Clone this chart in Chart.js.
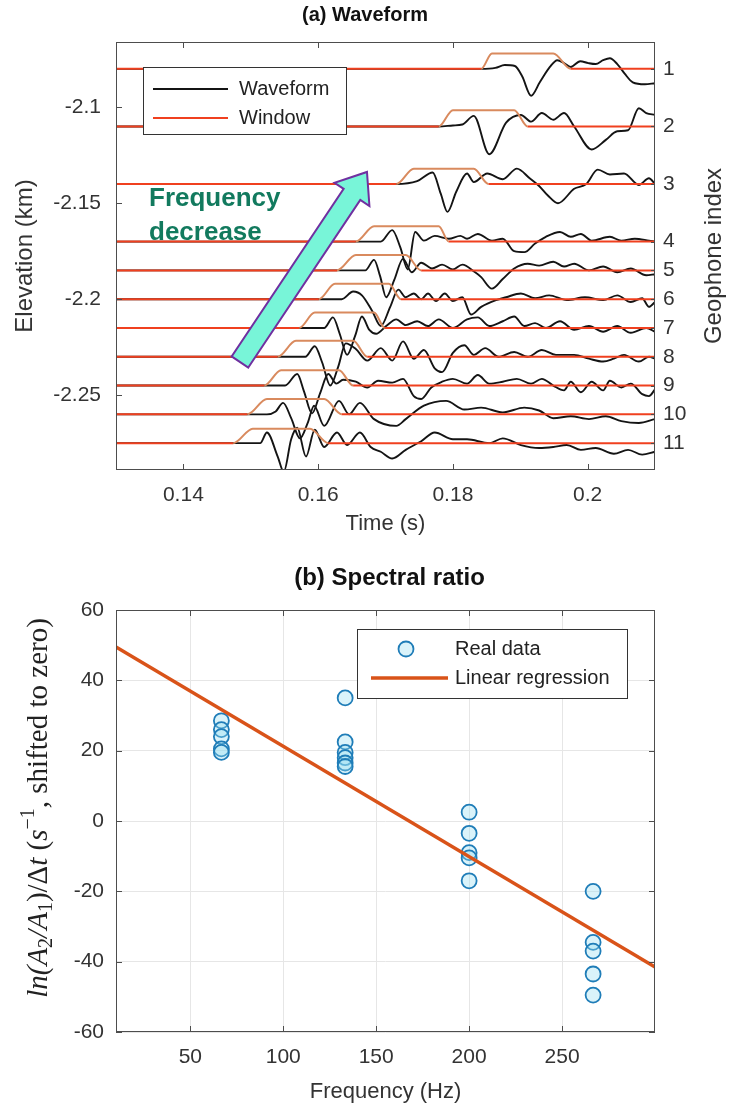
<!DOCTYPE html>
<html>
<head>
<meta charset="utf-8">
<script src="https://cdn.jsdelivr.net/npm/chart.js@4.4.1/dist/chart.umd.min.js"></script>
<style>
  html, body { margin: 0; padding: 0; background: #fff; }
  #wrap { position: relative; width: 730px; height: 1107px; }
  #wave { position: absolute; left: 0; top: 0; }
  #ratio { position: absolute; left: 0; top: 548px; }
</style>
</head>
<body>
<div id="wrap">
  <canvas id="wave" width="730" height="545"></canvas>
  <canvas id="ratio" width="730" height="559"></canvas>
</div>
<script>
// ---------- (a) Waveform : data ----------
const geophoneIndex = ['1', '2', '3', '4', '5', '6', '7', '8', '9', '10', '11'];
const geophoneElev = [-2.08, -2.11, -2.14, -2.17, -2.185, -2.2, -2.215, -2.23, -2.245, -2.26, -2.275]; // km
const timeTicks = [0.14, 0.16, 0.18, 0.2];
const elevTicks = [-2.25, -2.2, -2.15, -2.1];

// trace samples: time (s) and offset from the geophone elevation (m)
const t1 = [0.13, 0.1842, 0.1863, 0.1877, 0.1892, 0.1903, 0.1916, 0.1929, 0.1944, 0.1955, 0.1965, 0.1975, 0.1989, 0.2001, 0.2012, 0.2023, 0.2033, 0.2044, 0.2055, 0.2067, 0.2085, 0.21];
const a1 = [0, 0, 0.5, 2, 1.5, -4, -14, -7, 1, 4.5, 3, 1, 4, 3, 2.5, 4.5, 5.5, 2.5, -2.5, -7, -8, -7.5];
const t2 = [0.13, 0.1779, 0.18, 0.1814, 0.1831, 0.1854, 0.1879, 0.1901, 0.1916, 0.1932, 0.1949, 0.1965, 0.198, 0.2006, 0.2027, 0.2044, 0.206, 0.2076, 0.2087, 0.21];
const a2 = [0, 0, 0.5, 1, 5.5, -14.5, 2, 6, 2.5, 7, 3.5, 7, 0, -12, -7, -2.5, -2, 9.5, 7, 6];
const t3 = [0.13, 0.1716, 0.1747, 0.177, 0.1782, 0.1792, 0.1805, 0.1821, 0.1831, 0.1851, 0.1874, 0.1895, 0.1914, 0.1928, 0.1941, 0.1956, 0.198, 0.1998, 0.2015, 0.2033, 0.2054, 0.2076, 0.2091, 0.21];
const a3 = [0, 0, 1.5, 6, -5, -14.5, -4, 5.5, 1, 5.5, 2.5, 8, 3, -1, -6, -10, -2.5, 0, 7.5, 5, 5.5, -0.5, 3, 0];
const t4 = [0.13, 0.1693, 0.171, 0.1722, 0.1733, 0.1744, 0.1757, 0.1773, 0.1794, 0.1811, 0.1821, 0.1837, 0.1858, 0.1874, 0.1891, 0.1906, 0.1922, 0.1938, 0.1959, 0.1975, 0.199, 0.2006, 0.2033, 0.205, 0.207, 0.2091, 0.21];
const a4 = [0, 0, 6, -3, -14.5, 5, 0.5, 3, 1.5, 3, 1.5, 4, 0.5, 1.5, -5, -5.5, -1, 2.5, 5, 2.5, 4, 0.5, 2.5, 0.5, 1.5, 0.5, 0];
const t5 = [0.13, 0.167, 0.1683, 0.1692, 0.1701, 0.1713, 0.1726, 0.1739, 0.1753, 0.1769, 0.1784, 0.18, 0.1814, 0.1833, 0.1842, 0.1858, 0.1874, 0.1891, 0.1911, 0.1928, 0.1949, 0.1965, 0.198, 0.2002, 0.2023, 0.2044, 0.2064, 0.2087, 0.21];
const a5 = [0, 0, 5.5, -3, -14, -5, 6, -1, 4, 1, 3, 0.5, 3, -1, -3.5, -9.5, -4.5, 1, 3.5, 2.5, 4.5, 2, 3.5, 0, 2, -1, 1, -2.5, -2];
const t6 = [0.13, 0.1635, 0.1652, 0.1665, 0.168, 0.1693, 0.1707, 0.1719, 0.173, 0.1742, 0.1753, 0.1763, 0.1775, 0.1788, 0.18, 0.1814, 0.1827, 0.1842, 0.1864, 0.1879, 0.1901, 0.1922, 0.1943, 0.1969, 0.1996, 0.2023, 0.2044, 0.2064, 0.2081, 0.2091, 0.21];
const a6 = [0, 0, 4, 2, -6, -14, -4, 5, 1, 3, 0, 3, -1, 3, -1, 1, -8, -4, -0.5, 1, 3, 0.5, 2, -0.5, 1, -0.5, 2, -1.5, 0.5, -4, -1.5];
const t7 = [0.13, 0.1609, 0.1622, 0.1632, 0.1643, 0.1655, 0.1665, 0.1676, 0.1686, 0.1701, 0.1716, 0.173, 0.1747, 0.1763, 0.1779, 0.18, 0.1821, 0.1837, 0.1854, 0.1874, 0.1891, 0.1906, 0.1922, 0.1938, 0.1959, 0.198, 0.2002, 0.2023, 0.2044, 0.2064, 0.2087, 0.21];
const a7 = [0, 0, 5.5, -3, -14, -4, 6, -1, -3, 1, 4.5, 1.5, 3.5, 1, 4.5, 0, 4.5, 5.5, 1, 3.5, 6, 1, 2.5, 0, 3.5, -1, 1, -2, 1, -2.5, 0, -2];
const t8 = [0.13, 0.1581, 0.1595, 0.1606, 0.1618, 0.163, 0.1641, 0.1656, 0.1673, 0.1693, 0.171, 0.1726, 0.1742, 0.1757, 0.1773, 0.1784, 0.18, 0.1817, 0.1831, 0.1848, 0.1868, 0.1891, 0.1911, 0.1932, 0.1953, 0.198, 0.2002, 0.2023, 0.2039, 0.2054, 0.2076, 0.2091, 0.21];
const a8 = [0, 0, 5.5, -3, -15, -5, 7, 4, -2, 4.5, -2, 8, -1, 3.5, -6, -8, 2, 6, 1, 4.5, 0, 2.5, 0, 3.5, 1, 1, -1, -2.5, -1, 1, -2.5, 0, -1];
const t9 = [0.13, 0.1551, 0.1569, 0.1579, 0.1591, 0.1603, 0.1615, 0.1627, 0.1637, 0.1656, 0.1673, 0.1689, 0.171, 0.1726, 0.1742, 0.1753, 0.1768, 0.1784, 0.18, 0.1821, 0.1837, 0.1854, 0.1874, 0.1895, 0.1916, 0.1932, 0.1949, 0.1965, 0.1975, 0.199, 0.2006, 0.2023, 0.2033, 0.205, 0.2064, 0.2081, 0.2091, 0.21];
const a9 = [0, 0, 6, -3, -14.5, -4, 6, 1, 3, 2, -1, 2.5, 1.5, 3.5, -5.5, -7, -1, 2, 3.5, 1, 5.5, 1, 2, 3.5, 1, 3.5, 0, -2.5, 2, -3.5, 2, -2.5, 2.5, -1, 1, -4.5, -5.5, -2];
const t10 = [0.13, 0.1524, 0.1537, 0.1548, 0.156, 0.1573, 0.1585, 0.1594, 0.1609, 0.1631, 0.1646, 0.1662, 0.1683, 0.1716, 0.173, 0.1757, 0.179, 0.1817, 0.1842, 0.1874, 0.1906, 0.1928, 0.1949, 0.1975, 0.2002, 0.2027, 0.205, 0.2076, 0.21];
const a10 = [0, 0, 1.5, 6, -2, -12.5, -4, 4.5, -6, 7, 0, 6, -2.5, -6, -2.5, 4.5, 7, 2.5, 3.5, 1, 3.5, 2, -2, -1, -2.5, -1, -3.5, -4.5, -2.5];
const t11 = [0.13, 0.1514, 0.1524, 0.154, 0.1549, 0.156, 0.1569, 0.1582, 0.1595, 0.1609, 0.1628, 0.1643, 0.1662, 0.1678, 0.1693, 0.171, 0.173, 0.1753, 0.1773, 0.18, 0.1821, 0.1854, 0.1874, 0.1901, 0.1928, 0.1949, 0.1969, 0.199, 0.2012, 0.2039, 0.206, 0.2081, 0.21];
const a11 = [0, 0, 5.5, -7, -15, 2, 8, -7, 7, -2, 5.5, -1, 5.5, -2, -4.5, -8, -3.5, 1, 5.5, 2, 2, 0, 2.5, -1, -2.5, -2, -1, -3.5, -2.5, -5.5, -3.5, -6, -4.5];

// analysis windows (s) and window height (m)
const winStart = [0.1842, 0.1779, 0.1716, 0.1656, 0.1628, 0.1601, 0.1572, 0.154, 0.152, 0.1495, 0.1474];
const winRiseEnd = [0.1858, 0.18, 0.1742, 0.1683, 0.1656, 0.1625, 0.1595, 0.1567, 0.1545, 0.1524, 0.1503];
const winFallStart = [0.1949, 0.1891, 0.1831, 0.1779, 0.173, 0.1705, 0.1683, 0.1652, 0.1631, 0.1609, 0.1588];
const winEnd = [0.1975, 0.1911, 0.1853, 0.1794, 0.1753, 0.1723, 0.1699, 0.1673, 0.1652, 0.1635, 0.1615];
const winHeight = [8, 8.5, 8, 8, 8, 8, 8, 8.3, 8, 8, 7.5];

// ---------- (b) Spectral ratio ----------
const freqGroups = [66.7, 133.3, 200, 266.7];
const ratio67 = [28.5, 26, 24, 20.5, 19.5];
const ratio133 = [35, 22.5, 19.5, 18, 16.5, 15.5];
const ratio200 = [2.5, -3.5, -9, -10.5, -17];
const ratio267 = [-20, -34.5, -37, -43.5, -49.5];
const regFreq = [10, 300];
const regRatio = [49.5, -41.5];
const freqTicks = [50, 100, 150, 200, 250];
const ratioTicks = [-60, -40, -20, 0, 20, 40, 60];

Chart.defaults.font.family = "'Liberation Sans', Arial, Helvetica, sans-serif";
Chart.defaults.color = '#333';

const TIME_MIN = 0.13, TIME_MAX = 0.21;
const traceTimes = [t1, t2, t3, t4, t5, t6, t7, t8, t9, t10, t11];
const traceAmps = [a1, a2, a3, a4, a5, a6, a7, a8, a9, a10, a11];

const waveSets = traceTimes.map((ts, k) => ({
  label: 'Waveform',
  data: ts.map((t, i) => ({ x: t, y: geophoneElev[k] + traceAmps[k][i] / 1000 })),
  borderColor: '#141414',
  borderWidth: 1.9,
  pointRadius: 0,
  cubicInterpolationMode: 'monotone',
  order: 2
}));

const windowSets = geophoneElev.map((e, k) => {
  const top = e + winHeight[k] / 1000;
  return {
    label: 'Window',
    data: [
      { x: TIME_MIN, y: e }, { x: winStart[k], y: e }, { x: winRiseEnd[k], y: top },
      { x: winFallStart[k], y: top }, { x: winEnd[k], y: e }, { x: TIME_MAX, y: e }
    ],
    borderColor: '#f0401f',
    borderWidth: 2,
    pointRadius: 0,
    cubicInterpolationMode: 'monotone',
    segment: {
      borderColor: c => (c.p0.parsed.y > e + 1e-6 || c.p1.parsed.y > e + 1e-6) ? '#d98a5e' : '#f0401f'
    },
    order: 1
  };
});

// inward tick marks and the axes box, MATLAB style
const framePlugin = {
  id: 'frame',
  afterDatasetsDraw(chart) {
    const { ctx, chartArea: a } = chart;
    const xs = chart.scales.x, ys = chart.scales.y, yr = chart.scales.yR;
    const L = 6;
    ctx.save();
    ctx.strokeStyle = '#4d4d4d';
    ctx.lineWidth = 1;
    ctx.beginPath();
    xs.ticks.forEach(t => {
      const p = Math.round(xs.getPixelForValue(t.value)) + 0.5;
      ctx.moveTo(p, a.bottom); ctx.lineTo(p, a.bottom - L);
      ctx.moveTo(p, a.top); ctx.lineTo(p, a.top + L);
    });
    ys.ticks.forEach(t => {
      const p = Math.round(ys.getPixelForValue(t.value)) + 0.5;
      ctx.moveTo(a.left, p); ctx.lineTo(a.left + L, p);
      if (!yr) { ctx.moveTo(a.right, p); ctx.lineTo(a.right - L, p); }
    });
    if (yr) {
      yr.ticks.forEach(t => {
        const p = Math.round(yr.getPixelForValue(t.value)) + 0.5;
        ctx.moveTo(a.right, p); ctx.lineTo(a.right - 4, p);
      });
    }
    ctx.stroke();
    ctx.strokeRect(a.left + 0.5, a.top + 0.5, a.right - a.left - 1, a.bottom - a.top - 1);
    ctx.restore();
  }
};

const waveNotes = {
  id: 'waveNotes',
  afterDraw(chart) {
    const { ctx, chartArea: a } = chart;
    const xs = chart.scales.x, ys = chart.scales.y;
    ctx.save();

    // "Frequency decrease" arrow
    const p0 = { x: xs.getPixelForValue(0.1484), y: ys.getPixelForValue(-2.2327) };
    const p1 = { x: xs.getPixelForValue(0.16725), y: ys.getPixelForValue(-2.1337) };
    const dx = p1.x - p0.x, dy = p1.y - p0.y, len = Math.hypot(dx, dy);
    const ux = dx / len, uy = dy / len, nx = -uy, ny = ux;
    const headLen = 27, headHalf = 21, shaftHalf = 10;
    const bx = p1.x - ux * headLen, by = p1.y - uy * headLen;
    ctx.beginPath();
    ctx.moveTo(p0.x + nx * shaftHalf, p0.y + ny * shaftHalf);
    ctx.lineTo(bx + nx * shaftHalf, by + ny * shaftHalf);
    ctx.lineTo(bx + nx * headHalf, by + ny * headHalf);
    ctx.lineTo(p1.x, p1.y);
    ctx.lineTo(bx - nx * headHalf, by - ny * headHalf);
    ctx.lineTo(bx - nx * shaftHalf, by - ny * shaftHalf);
    ctx.lineTo(p0.x - nx * shaftHalf, p0.y - ny * shaftHalf);
    ctx.closePath();
    ctx.fillStyle = '#78f5d8';
    ctx.fill();
    ctx.strokeStyle = '#7030a0';
    ctx.lineWidth = 2;
    ctx.stroke();

    ctx.fillStyle = '#127a5e';
    ctx.font = "bold 26px 'Liberation Sans', Arial, sans-serif";
    ctx.textBaseline = 'middle';
    ctx.textAlign = 'left';
    ctx.fillText('Frequency', xs.getPixelForValue(0.1349), ys.getPixelForValue(-2.1478));
    ctx.fillText('decrease', xs.getPixelForValue(0.1349), ys.getPixelForValue(-2.1655));

    // legend
    ctx.fillStyle = '#fff';
    ctx.fillRect(143, 67, 203, 67);
    ctx.strokeStyle = '#333';
    ctx.lineWidth = 1;
    ctx.strokeRect(143.5, 67.5, 203, 67);
    const items = [
      { label: waveSets[0].label, color: '#141414', w: 1.9, y: 89 },
      { label: windowSets[0].label, color: '#f0401f', w: 2, y: 118 }
    ];
    ctx.font = "20px 'Liberation Sans', Arial, sans-serif";
    items.forEach(it => {
      ctx.strokeStyle = it.color;
      ctx.lineWidth = it.w;
      ctx.beginPath();
      ctx.moveTo(153, it.y); ctx.lineTo(228, it.y);
      ctx.stroke();
      ctx.fillStyle = '#222';
      ctx.fillText(it.label, 239, it.y);
    });

    // right axis title
    ctx.translate(714, (a.top + a.bottom) / 2);
    ctx.rotate(-Math.PI / 2);
    ctx.textAlign = 'center';
    ctx.font = "24px 'Liberation Sans', Arial, sans-serif";
    ctx.fillStyle = '#333';
    ctx.fillText('Geophone index', 0, 0);
    ctx.restore();
  }
};

new Chart(document.getElementById('wave'), {
  type: 'line',
  data: { datasets: [...waveSets, ...windowSets] },
  options: {
    responsive: false,
    animation: false,
    layout: { padding: 0 },
    plugins: {
      legend: { display: false },
      tooltip: { enabled: false },
      title: {
        display: true, text: '(a) Waveform', color: '#111',
        font: { size: 20, weight: 'bold' }, padding: { top: 3, bottom: 15 }
      }
    },
    scales: {
      x: {
        type: 'linear', min: TIME_MIN, max: TIME_MAX,
        grid: { display: false }, border: { display: false },
        afterBuildTicks: s => { s.ticks = timeTicks.map(v => ({ value: v })); },
        ticks: { font: { size: 21 }, padding: 5, autoSkip: false, maxRotation: 0, callback: v => String(v) },
        title: { display: true, text: 'Time (s)', font: { size: 22 }, padding: { top: 0, bottom: 8 } },
        afterFit: s => { s.height = 75; }
      },
      y: {
        type: 'linear', position: 'left', min: -2.289, max: -2.066,
        grid: { display: false }, border: { display: false },
        afterBuildTicks: s => { s.ticks = elevTicks.map(v => ({ value: v })); },
        ticks: { font: { size: 21 }, padding: 7, autoSkip: false, callback: v => String(v) },
        title: { display: true, text: 'Elevation (km)', font: { size: 24 }, padding: { top: 11, bottom: 0 } },
        afterFit: s => { s.width = 116; }
      },
      yR: {
        type: 'linear', position: 'right', min: -2.289, max: -2.066,
        grid: { display: false }, border: { display: false },
        afterBuildTicks: s => { s.ticks = geophoneElev.map(v => ({ value: v })); },
        ticks: { font: { size: 21 }, padding: 0, autoSkip: false, callback: (v, i) => geophoneIndex[i] },
        afterFit: s => { s.width = 75; }
      }
    }
  },
  plugins: [framePlugin, waveNotes]
});

// ---------- (b) chart ----------
const ratioPoints = [];
[ratio67, ratio133, ratio200, ratio267].forEach((vals, g) => {
  vals.forEach(v => ratioPoints.push({ x: freqGroups[g], y: v }));
});

const ratioNotes = {
  id: 'ratioNotes',
  afterDraw(chart) {
    const { ctx, chartArea: a } = chart;
    ctx.save();
    // title, centred on the axes
    ctx.font = "bold 24px 'Liberation Sans', Arial, sans-serif";
    ctx.fillStyle = '#111';
    ctx.textAlign = 'center';
    ctx.textBaseline = 'middle';
    ctx.fillText('(b) Spectral ratio', (a.left + a.right) / 2 + 4, 30);

    // legend
    ctx.textAlign = 'left';
    ctx.fillStyle = '#fff';
    ctx.fillRect(357, 81, 270, 69);
    ctx.strokeStyle = '#333';
    ctx.lineWidth = 1;
    ctx.strokeRect(357.5, 81.5, 270, 69);
    ctx.beginPath();
    ctx.arc(406, 101, 7.5, 0, Math.PI * 2);
    ctx.fillStyle = 'rgba(150,220,240,0.35)';
    ctx.fill();
    ctx.strokeStyle = '#1f7db8';
    ctx.lineWidth = 1.8;
    ctx.stroke();
    ctx.beginPath();
    ctx.moveTo(371, 130); ctx.lineTo(448, 130);
    ctx.strokeStyle = '#d95319';
    ctx.lineWidth = 3.5;
    ctx.stroke();
    ctx.font = "20px 'Liberation Sans', Arial, sans-serif";
    ctx.fillStyle = '#222';
    ctx.fillText(chart.data.datasets[1].label, 455, 101);
    ctx.fillText(chart.data.datasets[0].label, 455, 130);

    // y axis title with sub/superscripts
    const size = 29;
    const parts = [
      { s: 'ln(A', it: true }, { s: '2', sub: true }, { s: '/A', it: true }, { s: '1', sub: true },
      { s: ')/\u0394', it: false }, { s: 't', it: true }, { s: ' (', it: false }, { s: 's', it: true },
      { s: '\u22121', sup: true }, { s: ', shifted to zero)', it: false }
    ];
    const fontOf = p => (p.it ? 'italic ' : '') + ((p.sub || p.sup) ? Math.round(size * 0.7) : size) + "px 'Liberation Serif', 'Times New Roman', serif";
    let total = 0;
    parts.forEach(p => { ctx.font = fontOf(p); p.w = ctx.measureText(p.s).width; total += p.w; });
    ctx.translate(39, (a.top + a.bottom) / 2 - 13);
    ctx.rotate(-Math.PI / 2);
    ctx.fillStyle = '#222';
    let x = -total / 2;
    parts.forEach(p => {
      ctx.font = fontOf(p);
      ctx.fillText(p.s, x, p.sub ? size * 0.25 : (p.sup ? -size * 0.35 : 0));
      x += p.w;
    });
    ctx.restore();
  }
};

new Chart(document.getElementById('ratio'), {
  type: 'scatter',
  data: {
    datasets: [
      {
        type: 'line', label: 'Linear regression',
        data: regFreq.map((f, i) => ({ x: f, y: regRatio[i] })),
        borderColor: '#d95319', borderWidth: 3.5, pointRadius: 0, order: 0
      },
      {
        label: 'Real data', data: ratioPoints,
        pointStyle: 'circle', pointRadius: 7.5, borderWidth: 1.8,
        borderColor: '#1f7db8', backgroundColor: 'rgba(150,220,240,0.35)', order: 1
      }
    ]
  },
  options: {
    responsive: false,
    animation: false,
    layout: { padding: { top: 62 } },
    plugins: {
      legend: { display: false },
      tooltip: { enabled: false },
      title: { display: false }
    },
    scales: {
      x: {
        type: 'linear', min: 10, max: 300,
        grid: { color: '#e6e6e6', drawTicks: false }, border: { display: false },
        afterBuildTicks: s => { s.ticks = freqTicks.map(v => ({ value: v })); },
        ticks: { font: { size: 21 }, padding: 13, autoSkip: false, maxRotation: 0 },
        title: { display: true, text: 'Frequency (Hz)', font: { size: 22 }, padding: { top: 0, bottom: 2 } },
        afterFit: s => { s.height = 75; }
      },
      y: {
        type: 'linear', min: -60, max: 60,
        grid: { color: '#e6e6e6', drawTicks: false }, border: { display: false },
        afterBuildTicks: s => { s.ticks = ratioTicks.map(v => ({ value: v })); },
        ticks: { font: { size: 21 }, padding: 12, autoSkip: false },
        afterFit: s => { s.width = 116; }
      },
      yPad: {
        type: 'linear', position: 'right', min: -60, max: 60, display: true,
        grid: { display: false }, border: { display: false },
        ticks: { display: false },
        afterFit: s => { s.width = 75; }
      }
    }
  },
  plugins: [framePlugin, ratioNotes]
});
</script>
</body>
</html>
